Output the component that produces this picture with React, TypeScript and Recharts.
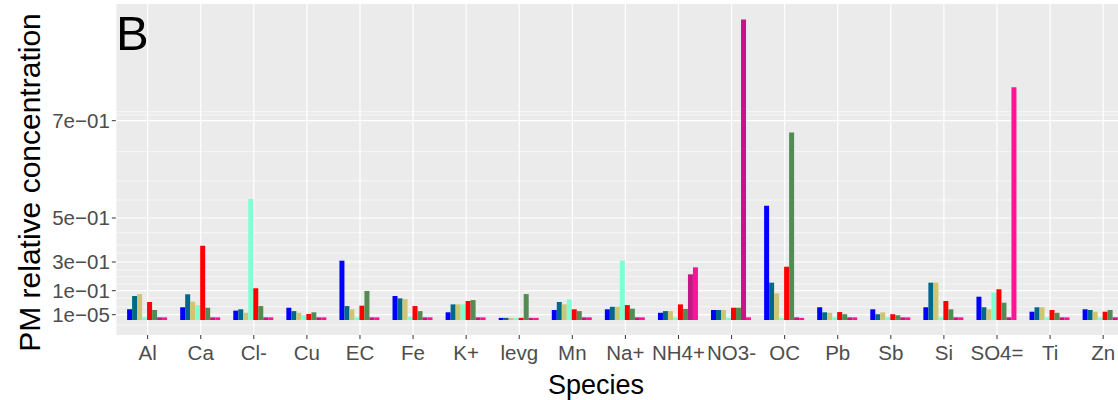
import { BarChart, Bar, XAxis, YAxis, CartesianGrid, Label } from "recharts"

// species on the x axis
const species = ["Al", "Ca", "Cl-", "Cu", "EC", "Fe", "K+", "levg", "Mn", "Na+", "NH4+", "NO3-", "OC", "Pb", "Sb", "Si", "SO4=", "Ti", "Zn"]

// relative concentration per source profile
const f1 = [0.0225, 0.031, 0.017, 0.029, 0.306, 0.078, 0.01, 0.000004, 0.0196, 0.0225, 0.008, 0.0196, 0.525, 0.031, 0.0225, 0.031, 0.075, 0.0125, 0.0225]
const f2 = [0.078, 0.085, 0.0225, 0.015, 0.036, 0.068, 0.043, 0.000004, 0.053, 0.033, 0.015, 0.0196, 0.156, 0.01, 0.002, 0.156, 0.031, 0.031, 0.0196]
const f3 = [0.086, 0.054, 0.008, 0.008, 0.0225, 0.065, 0.043, 0.000004, 0.043, 0.033, 0.015, 0.0196, 0.089, 0.008, 0.01, 0.156, 0.0225, 0.031, 0.0125]
const f4 = [0.000005, 0.04, 0.539, 0.0000094, 0.000005, 0.000006, 0.043, 0.000004, 0.064, 0.306, 0.000005, 0.000004, 0.000004, 0.000005, 0.000005, 0.000005, 0.092, 0.000005, 0.000005]
const f5 = [0.053, 0.374, 0.117, 0.003, 0.0375, 0.036, 0.057, 0.000004, 0.0225, 0.04, 0.043, 0.029, 0.267, 0.011, 0.002, 0.057, 0.11, 0.0196, 0.0125]
const f6 = [0.0196, 0.029, 0.036, 0.01, 0.099, 0.015, 0.061, 0.086, 0.015, 0.025, 0.024, 0.029, 0.676, 0.002, 0.000009, 0.0225, 0.05, 0.008, 0.0196]
const f7 = [0.000005, 0.000005, 0.000005, 0.000005, 0.000005, 0.000005, 0.000005, 0.000004, 0.000005, 0.000005, 0.214, 0.908, 0.000005, 0.000005, 0.000005, 0.000005, 0.000005, 0.000005, 0.000005]
const f8 = [0.000005, 0.000005, 0.000005, 0.000005, 0.000005, 0.000005, 0.000005, 0.000004, 0.000005, 0.000005, 0.263, 0.000005, 0.000004, 0.000005, 0.000005, 0.000005, 0.769, 0.000005, 0.000005]

const seriesValues = [f1, f2, f3, f4, f5, f6, f7, f8]
const seriesColors = ["#0000FF", "#00688B", "#CDC673", "#7FFFD4", "#FF0000", "#548B54", "#C71585", "#FF1493"]

// y tick labels
const yTickValues = [0.00001, 0.1, 0.3, 0.5, 0.7]
const yTickLabels = ["1e\u221205", "1e\u221201", "3e\u221201", "5e\u221201", "7e\u221201"]

// the original axis is stretched unevenly, knots of that transform
const knotValues = [0, 0.00001, 0.1, 0.3, 0.5, 0.7]
const knotScale = [0, 5.3, 29.3, 58, 102, 199.3]
// extra (minor) grid lines, in transformed units
const minorGrid = [208.3, 205, 168.3, 139, 120, 87.3, 75, 67, 50, 43.3, 36, 22, 13.3, -5]

function toScale(v: number) {
    const n = knotValues.length
    for (let i = 1; i < n; i++) {
        if (v <= knotValues[i]) {
            const r = (v - knotValues[i - 1]) / (knotValues[i] - knotValues[i - 1])
            return knotScale[i - 1] + r * (knotScale[i] - knotScale[i - 1])
        }
    }
    const slope = (knotScale[n - 1] - knotScale[n - 2]) / (knotValues[n - 1] - knotValues[n - 2])
    return knotScale[n - 1] + (v - knotValues[n - 1]) * slope
}

const chartData = species.map((name, i) => {
    const row: Record<string, number | string> = { species: name }
    seriesValues.forEach((vals, s) => {
        row[`f${s + 1}`] = toScale(vals[i])
    })
    return row
})

const yTicks = yTickValues.map(toScale)

// label for a tick, matched by position rather than index
const tickLabel = (v: number) => {
    let best = 0
    yTicks.forEach((t, i) => {
        if (Math.abs(t - v) < Math.abs(yTicks[best] - v)) best = i
    })
    return yTickLabels[best]
}

const font = "'Liberation Sans', Arial, sans-serif"

export default function App() {
    return (
        <div style={{ position: "fixed", left: 0, top: 0, width: 1118, height: 400, overflow: "hidden", background: "#fff" }}>
            <BarChart
                width={1140}
                height={400}
                data={chartData}
                margin={{ top: 4, right: 5, bottom: 0, left: 0 }}
                barCategoryGap={6}
                barGap={0}
                style={{ fontFamily: font }}
            >
                <CartesianGrid
                    fill="#EBEBEB"
                    vertical={false}
                    horizontalValues={minorGrid}
                    stroke="#FFFFFF"
                    strokeWidth={0.6}
                />
                <CartesianGrid
                    fill="none"
                    horizontalValues={yTicks}
                    stroke="#FFFFFF"
                    strokeWidth={1.2}
                />
                <XAxis
                    dataKey="species"
                    height={65}
                    padding={{ left: 5.3, right: 5.3 }}
                    axisLine={false}
                    tickSize={4}
                    tickMargin={6}
                    tickLine={{ stroke: "#333333" }}
                    tick={{ fontSize: 20.5, fill: "#4D4D4D" }}
                    interval={0}
                >
                    <Label
                        content={() => (
                            <text x={596} y={394} textAnchor="middle" fontSize={27} fill="#000" fontFamily={font}>
                                Species
                            </text>
                        )}
                    />
                </XAxis>
                <YAxis
                    type="number"
                    width={115.8}
                    domain={[-15, 316]}
                    ticks={yTicks}
                    interval={0}
                    allowDataOverflow
                    axisLine={false}
                    tickSize={4}
                    tickMargin={2}
                    tickLine={{ stroke: "#333333" }}
                    tick={{ fontSize: 20.5, fill: "#4D4D4D" }}
                    tickFormatter={(v) => tickLabel(v)}
                >
                    <Label
                        content={() => (
                            <text
                                x={40}
                                y={182.5}
                                transform="rotate(-90 40 182.5)"
                                textAnchor="middle"
                                fontSize={30}
                                fill="#000"
                                fontFamily={font}
                            >
                                PM relative concentration
                            </text>
                        )}
                    />
                </YAxis>
                {seriesColors.map((c, s) => (
                    <Bar key={s} dataKey={`f${s + 1}`} fill={c} isAnimationActive={false} />
                ))}
            </BarChart>
            <svg width={200} height={70} style={{ position: "absolute", left: 0, top: 0 }}>
                <text x={116} y={50} fontSize={49} fill="#000" fontFamily={font}>B</text>
            </svg>
        </div>
    )
}
